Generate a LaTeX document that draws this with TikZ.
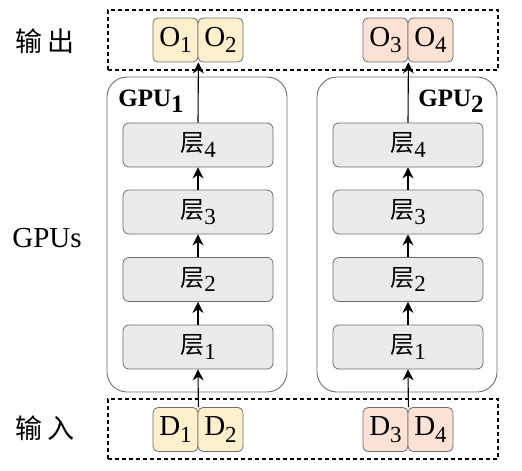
\documentclass[tikz,border=0pt]{standalone}
\usepackage{fontspec}
\setmainfont{Liberation Serif}
\newfontfamily\cjk{Noto Sans CJK SC}
\usetikzlibrary{arrows.meta}
\definecolor{yelfill}{RGB}{254,240,204}
\definecolor{pchfill}{RGB}{251,226,212}
\definecolor{layfill}{RGB}{235,235,235}
\definecolor{bordgray}{RGB}{110,110,110}
\newcommand\mysub[2][23]{\raisebox{-0.5ex}{\fontsize{#1}{#1}\selectfont #2}}
\tikzset{
  dbox/.style={draw=black, line width=1.1pt, dash pattern=on 4pt off 3pt, minimum width=390pt, minimum height=60pt, inner sep=0pt},
  gbox/.style={draw=bordgray, line width=0.9pt, rounded corners=20pt, minimum width=180pt, minimum height=315pt, inner sep=0pt},
  dat/.style={draw=bordgray, line width=0.8pt, rounded corners=5pt, minimum width=45pt, minimum height=44pt, inner sep=0pt, font=\fontsize{29}{29}\selectfont},
  ybox/.style={dat, fill=yelfill},
  pbox/.style={dat, fill=pchfill},
  layer/.style={draw=bordgray, line width=0.8pt, fill=layfill, rounded corners=6pt, minimum width=150pt, minimum height=44pt, inner sep=0pt, font=\fontsize{24}{24}\selectfont},
  arr/.style={-{Stealth[length=11pt,width=11pt]}, line width=1.1pt, black},
  sidelbl/.style={font=\fontsize{27}{27}\selectfont},
  gpulbl/.style={font=\fontsize{25}{25}\selectfont\bfseries}
}
\begin{document}
\begin{tikzpicture}[x=1pt,y=-1pt]
\useasboundingbox (0,0) rectangle (522,471);
% dashed frames
\node[dbox] (outbox) at (303,40) {};
\node[dbox] (inbox) at (303,429) {};
% GPU frames
\node[gbox] (gpu1) at (197,234.5) {};
\node[gbox] (gpu2) at (407,234.5) {};
\node[gpulbl] (g1lbl) at (151,101) {GPU\mysub[25]{1}};
\node[gpulbl] (g2lbl) at (451,101) {GPU\mysub[25]{2}};
% side labels
\node[sidelbl] (lout) at (45,41) {\cjk 输\,出};
\node[sidelbl, font=\fontsize{29}{29}\selectfont] (lgpu) at (47,238) {GPUs};
\node[sidelbl] (lin) at (45,428) {\cjk 输\,入};
% outputs
\node[ybox] (O1) at (175.5,40) {O\mysub{1}};
\node[ybox] (O2) at (220.5,40) {O\mysub{2}};
\node[pbox] (O3) at (385.5,40) {O\mysub{3}};
\node[pbox] (O4) at (430.5,40) {O\mysub{4}};
% inputs
\node[ybox] (D1) at (175.5,429.5) {D\mysub{1}};
\node[ybox] (D2) at (220.5,429.5) {D\mysub{2}};
\node[pbox] (D3) at (385.5,429.5) {D\mysub{3}};
\node[pbox] (D4) at (430.5,429.5) {D\mysub{4}};
% layers
\foreach \g/\x in {a/198,b/408}{
  \node[layer] (\g1) at (\x,347) {{\cjk 层}\mysub{1}};
  \node[layer] (\g2) at (\x,279.5) {{\cjk 层}\mysub{2}};
  \node[layer] (\g3) at (\x,212) {{\cjk 层}\mysub{3}};
  \node[layer] (\g4) at (\x,145) {{\cjk 层}\mysub{4}};
}
% arrows
\draw[arr] (D1.north east) -- (a1.south);
\draw[arr] (a1.north) -- (a2.south);
\draw[arr] (a2.north) -- (a3.south);
\draw[arr] (a3.north) -- (a4.south);
\draw[arr] (a4.north) -- (O1.south east);
\draw[arr] (D3.north east) -- (b1.south);
\draw[arr] (b1.north) -- (b2.south);
\draw[arr] (b2.north) -- (b3.south);
\draw[arr] (b3.north) -- (b4.south);
\draw[arr] (b4.north) -- (O3.south east);
\end{tikzpicture}
\end{document}
